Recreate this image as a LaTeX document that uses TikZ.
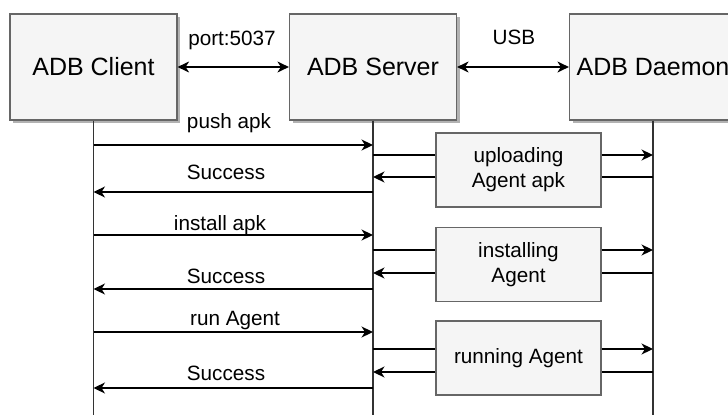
\documentclass[tikz,border=0pt]{standalone}
\usepackage{fontspec}
\setmainfont{Liberation Sans}
\usetikzlibrary{arrows.meta,shadows}
\definecolor{boxfill}{HTML}{F5F5F5}
\definecolor{boxline}{HTML}{666666}
\begin{document}
\begin{tikzpicture}[x=1pt,y=-1pt,
  actor/.style={draw=boxline, line width=1.2pt, fill=boxfill, minimum width=167pt, minimum height=106pt, inner sep=0pt, font=\fontsize{25}{30}\selectfont, drop shadow={shadow xshift=3pt, shadow yshift=-3pt, fill=black!30, opacity=1}},
  task/.style={draw=boxline, line width=1.2pt, fill=boxfill, minimum width=165pt, minimum height=74pt, inner sep=0pt, align=center, font=\fontsize{20.7}{25}\selectfont},
  lbl/.style={font=\fontsize{20.7}{25}\selectfont, anchor=base, inner sep=0pt},
  life/.style={draw=black!80, line width=1.3pt},
  tip/.tip={Stealth[length=11.5pt,width=11pt,inset=3.5pt]},
  msg/.style={draw=black, line width=1.3pt, -tip},
  dbl/.style={draw=black, line width=1.3pt, tip-tip},
  seg/.style={draw=black, line width=1.3pt},
]
\useasboundingbox (0,0) rectangle (728,415);
\coordinate (bottom) at (0,415);
% actors and lifelines
\node[actor] (client) at (93.5,67) {ADB Client};
\node[actor] (server) at (373,67) {ADB Server};
\node[actor] (daemon) at (653,67) {ADB Daemon};
\draw[life] (client.south) -- (client.south |- bottom);
\draw[life] (server.south) -- (server.south |- bottom);
\draw[life] (daemon.south) -- (daemon.south |- bottom);
% links
\draw[dbl] (client.east) -- (server.west);
\draw[dbl] (server.east) -- (daemon.west);
\node[lbl] (port) at (232,45) {port:5037};
\node[lbl] (usb) at (514,44) {USB};
% task boxes
\node[task] (upload) at (518.5,170) {uploading\\Agent apk};
\node[task] (install) at (518.5,264.5) {installing\\Agent};
\node[task] (run) at (518.5,358) {running Agent};
% y levels
\coordinate (m1) at (0,145);
\coordinate (m2) at (0,192);
\coordinate (m3) at (0,235);
\coordinate (m4) at (0,289);
\coordinate (m5) at (0,332);
\coordinate (m6) at (0,388);
\coordinate (f1) at (0,155);
\coordinate (r1) at (0,177);
\coordinate (f2) at (0,250);
\coordinate (r2) at (0,273);
\coordinate (f3) at (0,349);
\coordinate (r3) at (0,372);
% client <-> server messages
\draw[msg] (client.south |- m1) -- (server.south |- m1);
\draw[msg] (server.south |- m2) -- (client.south |- m2);
\draw[msg] (client.south |- m3) -- (server.south |- m3);
\draw[msg] (server.south |- m4) -- (client.south |- m4);
\draw[msg] (client.south |- m5) -- (server.south |- m5);
\draw[msg] (server.south |- m6) -- (client.south |- m6);
\node[lbl] (l1) at (229,128) {push apk};
\node[lbl] (l2) at (226,179) {Success};
\node[lbl] (l3) at (220,230) {install apk};
\node[lbl] (l4) at (226,283) {Success};
\node[lbl] (l5) at (235,325) {run Agent};
\node[lbl] (l6) at (226,380) {Success};
% server <-> daemon via tasks
\draw[seg] (server.south |- f1) -- (upload.west |- f1);
\draw[msg] (upload.east |- f1) -- (daemon.south |- f1);
\draw[seg] (daemon.south |- r1) -- (upload.east |- r1);
\draw[msg] (upload.west |- r1) -- (server.south |- r1);
\draw[seg] (server.south |- f2) -- (install.west |- f2);
\draw[msg] (install.east |- f2) -- (daemon.south |- f2);
\draw[seg] (daemon.south |- r2) -- (install.east |- r2);
\draw[msg] (install.west |- r2) -- (server.south |- r2);
\draw[seg] (server.south |- f3) -- (run.west |- f3);
\draw[msg] (run.east |- f3) -- (daemon.south |- f3);
\draw[seg] (daemon.south |- r3) -- (run.east |- r3);
\draw[msg] (run.west |- r3) -- (server.south |- r3);
\end{tikzpicture}
\end{document}
